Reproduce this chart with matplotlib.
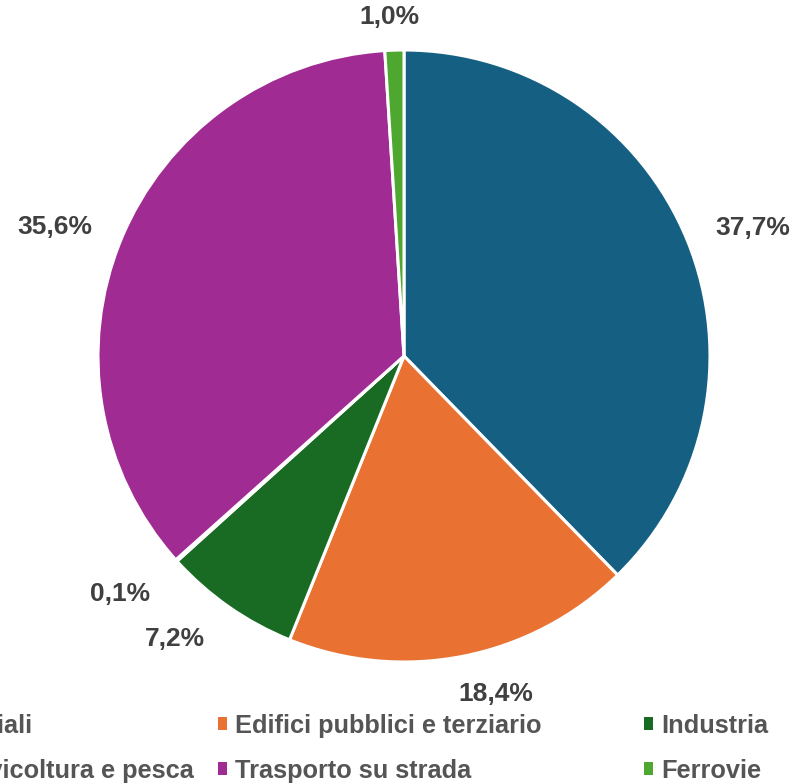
import numpy as np
import matplotlib.pyplot as plt
from matplotlib.patches import Patch

# Consumi per settore (%)
settori = [
    "Edifici residenziali",
    "Edifici pubblici e terziario",
    "Industria",
    "Agricoltura, silvicoltura e pesca",
    "Trasporto su strada",
    "Ferrovie",
]
quote = [37.7, 18.4, 7.2, 0.1, 35.6, 1.0]
colori = ["#156082", "#E97132", "#196B24", "#0F9ED5", "#A02B93", "#4EA72E"]

# distance of each percentage label from the centre (in radii) and small angle nudges
dist_etichette = [1.213, 1.143, 1.19, 1.21, 1.216, 1.11]
spost_angolo = [-2.0, 4.0, -4.0, -2.0, 2.0, 0.6]

W, H = 796, 784
fig = plt.figure(figsize=(W / 100, H / 100), dpi=100)

cx, cy, R = 404, 356, 306
ax = fig.add_axes([(cx - R) / W, (H - cy - R) / H, 2 * R / W, 2 * R / H])
ax.pie(quote, colors=colori, startangle=90, counterclock=False, radius=1,
       wedgeprops=dict(edgecolor="white", linewidth=2.2))
ax.set_xlim(-1, 1)
ax.set_ylim(-1, 1)
ax.set_axis_off()

label_font = dict(family=["Liberation Sans", "DejaVu Sans"], fontsize=19,
                  fontweight="bold", color="#404040")

cum = np.cumsum([0] + quote[:-1])
for q, c0, d, da in zip(quote, cum, dist_etichette, spost_angolo):
    ang = np.deg2rad(90 - (c0 + q / 2) * 3.6 + da)
    testo = f"{q:.1f}%".replace(".", ",")
    ax.text(d * np.cos(ang), d * np.sin(ang), testo, ha="center",
            va="center", clip_on=False, **label_font)

# legend laid out as three equal-width columns, two rows each
col_x = [-208, 218, 644]
leg_y = 1 - 714 / H
leg_font = dict(family=["Liberation Sans", "DejaVu Sans"], size=18.3, weight="bold")
handles = [Patch(facecolor=c, edgecolor="none") for c in colori]
legends = []
for j in range(3):
    idx = [j, j + 3]
    leg = fig.legend([handles[i] for i in idx], [settori[i] for i in idx],
                     loc="upper left", bbox_to_anchor=(col_x[j] / W, leg_y),
                     frameon=False, prop=leg_font, borderpad=0, borderaxespad=0,
                     handlelength=0.36, handleheight=0.4, handletextpad=0.3,
                     labelspacing=0.82)
    for t in leg.get_texts():
        t.set_color("#555555")
    legends.append(leg)

# shift the first column so its longer entry ends where the column gap begins
fig.canvas.draw()
r = fig.canvas.get_renderer()
fine = legends[0].get_texts()[1].get_window_extent(r).x1
legends[0].set_bbox_to_anchor(((col_x[0] + 194 - fine) / W, leg_y))

fig.savefig("out.png", dpi=100)
